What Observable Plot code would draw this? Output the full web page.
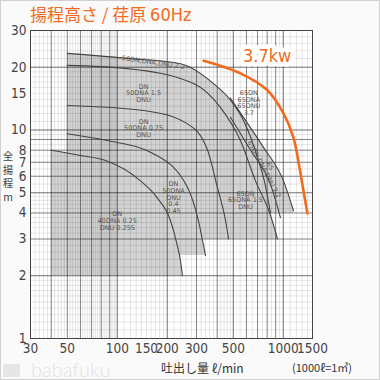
<!DOCTYPE html>
<html><head><meta charset="utf-8">
<script src="https://cdn.jsdelivr.net/npm/d3@7"></script>
<script src="https://cdn.jsdelivr.net/npm/@observablehq/plot@0.6"></script>
<style>
body{margin:0;background:#fff;}
#wrap{position:relative;width:380px;height:380px;background:#fafafa;overflow:hidden;font-family:"Noto Sans CJK JP",sans-serif;}
#wrap svg{position:absolute;left:0;top:0;}
#border{position:absolute;left:0;top:0;width:380px;height:380px;box-sizing:border-box;border:1px solid #d0d0d0;pointer-events:none;}
#title{position:absolute;left:30px;top:1px;font-size:17px;color:#f26b1d;white-space:nowrap;}
#title .h{font-family:"Liberation Sans Narrow","DejaVu Sans Condensed",sans-serif;font-size:18px;}
#ylab{position:absolute;left:2px;top:149px;width:12px;font-size:10.5px;line-height:13.5px;color:#444;text-align:center;}
#xlab{position:absolute;left:161px;top:359px;font-size:12px;color:#333;white-space:nowrap;}
#unit{position:absolute;left:292px;top:359px;font-size:11px;color:#333;white-space:nowrap;}
#logo{position:absolute;left:3px;top:364px;width:17px;height:13px;background:#e6e6e6;}
#wm{position:absolute;left:31px;top:360px;font-family:Lato,sans-serif;font-weight:300;font-size:20px;line-height:18px;color:#e2e2e2;white-space:nowrap;}
</style></head><body>
<div id="wrap">
<div id="chart"></div>
<div id="title">揚程高さ / 荏原 <span class="h">60Hz</span></div>
<div id="ylab">全<br>揚<br>程<br>m</div>
<div id="logo"></div>
<div id="wm">babafuku</div>
<div id="xlab">吐出し量 ℓ/min</div>
<div id="unit">(1000ℓ=1㎥)</div>
<div id="border"></div>
</div>
<script>
// tick labels
const xTickLabels = [30, 50, 100, 150, 200, 300, 500, 1000, 1500];
const yTickLabels = [1, 2, 3, 4, 5, 6, 7, 8, 9, 10, 15, 20, 30];

// pump curves: [flow l/min, head m]
const pump40_025 = [[40,8.0],[60,7.55],[85,7.14],[138,5.7],[175,4.7],[209,3.68],[230,2.79],[240,2.37],[247,2.0]];
const pump50_04  = [[50,9.6],[87,8.9],[165,7.7],[265,5.3],[308,3.68],[340,2.5]];
const pump50_075 = [[50,13.1],[144,12.4],[265,10.7],[350,8.0],[401,5.3],[449,3.68],[468,3.0]];
const pump50_15  = [[50,20.4],[115,19.7],[288,16.7],[419,12.8],[552,8.9],[680,5.7],[837,3.9],[923,3.0]];
const pump50_22  = [[50,23.3],[120,22.0],[240,20.8],[380,16.7],[481,13.9],[576,11.1],[699,7.4],[781,5.4],[837,4.0]];
const pump65_37  = [[481,14.2],[576,11.5],[760,8.25],[1003,5.7],[1152,4.1]];
const pump65_22  = [[481,11.5],[635,8.0],[837,5.5],[962,3.8]];
const pump37kw   = [[331,21.5],[552,18.7],[803,15.5],[1003,12.0],[1152,9.2],[1252,6.6],[1324,5.1],[1399,3.98]];

// shaded regions: [curve, bottom head]
const regions = [[pump40_025,2],[pump50_04,2.5],[pump50_075,3],[pump50_15,3],[pump50_22,4],[pump65_37,4]];

// curve labels: [flow, head, text, rotate]
const curveLabels = [
  [165,21.1,"50DN,DNA,DNU 2.2",8],
  [144,15.0,"DN\n50DNA 1.5\nDNU",0],
  [144,10.2,"DN\n50DNA 0.75\nDNU",0],
  [218,4.75,"DN\n50DNA\nDNU\n0.4\n0.45",0],
  [100,3.68,"DN\n40DNA 0.25\nDNU 0.25S",0],
  [620,13.5,"65DN\n65DNA\n65DNU\n3.7",0],
  [800,6.6,"65\n65DN DNA DNU 2.2",62],
  [592,4.6,"65DN\n65DNA 1.5\nDNU",0]
];

// log graph-paper grid values
function rangeStep(a,b,s){const r=[];for(let v=a;v<=b+1e-9;v+=s)r.push(+v.toFixed(4));return r;}
const minorX = [].concat(rangeStep(30,100,2),rangeStep(100,200,10),rangeStep(200,500,20),rangeStep(500,1000,50),rangeStep(1000,1500,100));
const majorX = [30,40,50,60,70,80,90,100,200,300,400,500,600,700,800,900,1000,1500];
const minorY = [].concat(rangeStep(1,2,0.1),rangeStep(2,5,0.2),rangeStep(5,10,0.5),rangeStep(10,20,1),rangeStep(20,30,2));
const majorY = [1,2,3,4,5,6,7,8,9,10,20,30];

const areaMarks = regions.map(([c,b]) => Plot.areaY(c, {x: d=>d[0], y1: b, y2: d=>d[1], fill: "#d3d3d3", curve: "monotone-x"}));
const lineMarks = [pump40_025,pump50_04,pump50_075,pump50_15,pump50_22,pump65_37,pump65_22].map(c =>
  Plot.line(c, {x: d=>d[0], y: d=>d[1], stroke: "#444", strokeWidth: 1.1, curve: "monotone-x"}));

const chart = Plot.plot({
  width: 380, height: 380,
  marginLeft: 30, marginRight: 68, marginTop: 30, marginBottom: 42,
  style: {background: "transparent", fontFamily: "'Liberation Sans Narrow','DejaVu Sans Condensed',sans-serif", fontSize: "13.5px", color: "#444"},
  x: {type: "log", domain: [30,1500], ticks: xTickLabels, tickFormat: d => String(d), tickSize: 0, tickPadding: 5, label: null},
  y: {type: "log", domain: [1,30], ticks: yTickLabels, tickFormat: d => String(d), tickSize: 0, tickPadding: 4, label: null},
  marks: [
    Plot.frame({fill: "white", stroke: null}),
    ...areaMarks,
    Plot.ruleX(minorX, {stroke: "#000", strokeOpacity: 0.14, strokeWidth: 0.7}),
    Plot.ruleY(minorY, {stroke: "#000", strokeOpacity: 0.14, strokeWidth: 0.7}),
    Plot.ruleX(majorX, {stroke: "#000", strokeOpacity: 0.42, strokeWidth: 1}),
    Plot.ruleY(majorY, {stroke: "#000", strokeOpacity: 0.42, strokeWidth: 1}),
    ...lineMarks,
    Plot.line(pump37kw, {x: d=>d[0], y: d=>d[1], stroke: "#f26b1d", strokeWidth: 2.6, curve: "catmull-rom"}),
    Plot.text(curveLabels, {x: d=>d[0], y: d=>d[1], text: d=>d[2], rotate: d=>d[3], fontSize: 6.5, fill: "#555", lineHeight: 1.05, fontFamily: "DejaVu Sans"}),
    Plot.text(["3.7kw"], {x: 800, y: 22.6, text: d=>d, fontSize: 18, fill: "#f26b1d", stroke: "white", strokeWidth: 9, fontFamily: "'Liberation Sans Narrow','DejaVu Sans Condensed',sans-serif"}),
    Plot.frame({stroke: "#444", strokeWidth: 1})
  ]
});
document.getElementById("chart").appendChild(chart);
</script>
</body></html>
